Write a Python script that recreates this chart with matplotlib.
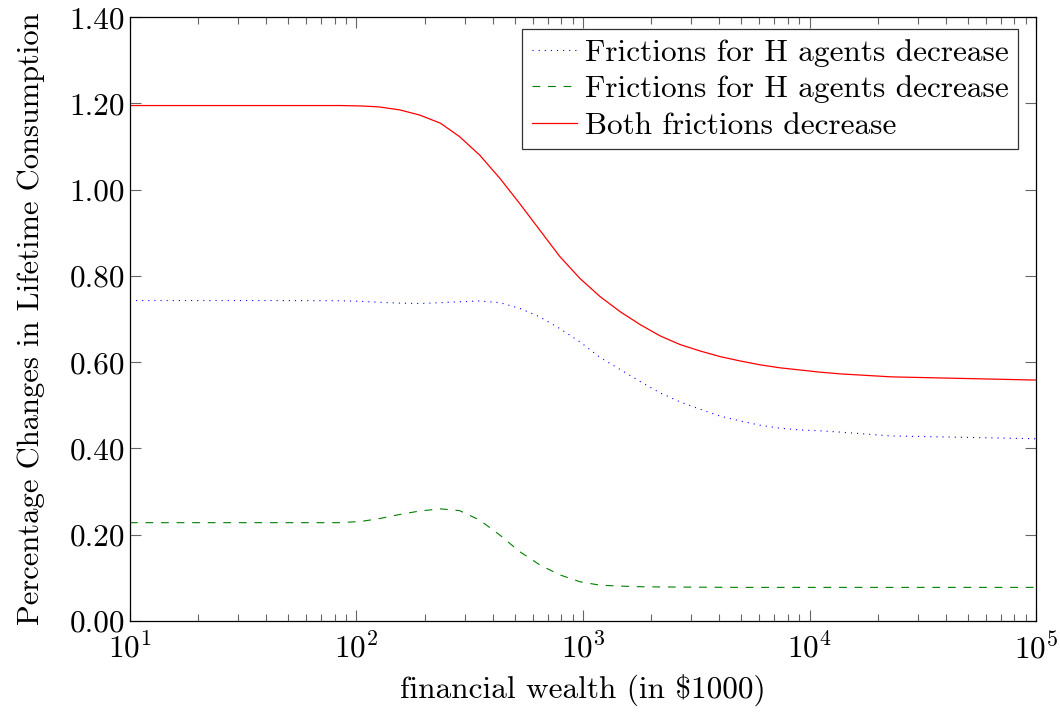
import matplotlib
matplotlib.use("Agg")
import matplotlib.pyplot as plt
from matplotlib.ticker import FormatStrFormatter, LogLocator

plt.rcParams['font.family'] = ['cmr10', 'DejaVu Serif']
plt.rcParams['mathtext.fontset'] = 'cm'
plt.rcParams['axes.formatter.use_mathtext'] = True

# financial wealth grid (in $1000)
wealth = [10, 20, 40, 85, 105, 125, 155, 190, 235, 285, 350, 430, 525, 645, 790,
          970, 1190, 1460, 1790, 2190, 2680, 3290, 4030, 4930, 6040, 7400, 9070,
          11100, 13600, 23000, 46000, 100000]

# percentage changes
h_frictions = [0.743, 0.743, 0.743, 0.7425, 0.741, 0.739, 0.737, 0.736, 0.738, 0.740,
               0.742, 0.738, 0.725, 0.705, 0.678, 0.647, 0.611, 0.583, 0.555, 0.529,
               0.508, 0.491, 0.475, 0.464, 0.454, 0.447, 0.443, 0.441, 0.438, 0.429,
               0.426, 0.4226]
l_frictions = [0.228, 0.228, 0.228, 0.228, 0.231, 0.237, 0.247, 0.255, 0.260, 0.256,
               0.234, 0.199, 0.161, 0.130, 0.107, 0.091, 0.083, 0.081, 0.0795, 0.079,
               0.0787, 0.0785, 0.0782, 0.078, 0.078, 0.078, 0.078, 0.078, 0.078, 0.078,
               0.078, 0.078]
both_frictions = [1.195, 1.195, 1.195, 1.195, 1.194, 1.192, 1.185, 1.173, 1.154, 1.123,
                  1.080, 1.026, 0.968, 0.906, 0.845, 0.794, 0.752, 0.717, 0.687, 0.661,
                  0.641, 0.626, 0.613, 0.603, 0.594, 0.587, 0.582, 0.577, 0.573, 0.566,
                  0.5625, 0.5586]

labels = ["Frictions for H agents decrease", "Frictions for H agents decrease",
          "Both frictions decrease"]

FS = 22.5

fig = plt.figure(figsize=(10.6, 7.13), dpi=100)
ax = fig.add_axes([0.1226, 0.129, 0.8548, 0.847])

ax.plot(wealth, h_frictions, color='blue', linestyle=(0, (1, 4.5)), linewidth=0.8, label=labels[0])
ax.plot(wealth, l_frictions, color=(0, 0.5, 0), linestyle=(0, (7, 7)), linewidth=0.8, label=labels[1])
ax.plot(wealth, both_frictions, color='red', linestyle='-', linewidth=0.9, label=labels[2])

ax.set_xscale('log')
ax.set_xlim(10, 1e5)
ax.set_ylim(0, 1.4)
ax.set_yticks([0, 0.2, 0.4, 0.6, 0.8, 1.0, 1.2, 1.4])
ax.yaxis.set_major_formatter(FormatStrFormatter('%.2f'))
ax.xaxis.set_major_locator(LogLocator(base=10, numticks=10))
ax.xaxis.set_minor_locator(LogLocator(base=10, subs=range(2, 10), numticks=20))

ax.tick_params(which='both', direction='in', top=True, right=True,
               labelsize=FS, color='#666666', width=0.8)
ax.tick_params(which='major', length=8)
ax.tick_params(which='minor', length=5)
ax.tick_params(axis='x', which='major', pad=8)
for s in ax.spines.values():
    s.set_linewidth(0.9)

ax.set_xlabel("financial wealth (in \\$1000)", fontsize=FS, labelpad=6)
ax.set_ylabel("Percentage Changes in Lifetime Consumption", fontsize=22, labelpad=18)

leg = ax.legend(loc='upper right', bbox_to_anchor=(0.98, 0.98), fontsize=FS,
                frameon=True, fancybox=False, edgecolor='black',
                handlelength=1.45, handletextpad=0.25, borderpad=0.3,
                labelspacing=0.28, borderaxespad=0)
leg.get_frame().set_linewidth(0.9)

fig.savefig("out.png", dpi=100)
